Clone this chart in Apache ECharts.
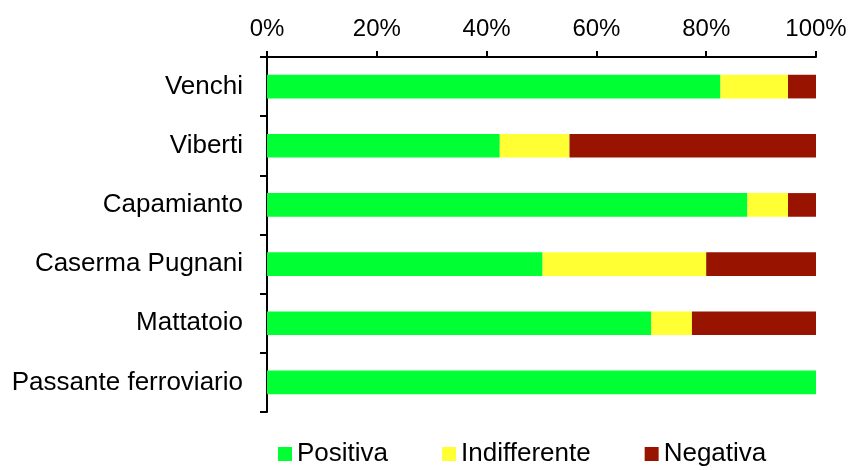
<!DOCTYPE html>
<html>
<head>
<meta charset="utf-8">
<script src="https://cdn.jsdelivr.net/npm/echarts@6/dist/echarts.min.js"></script>
<style>html,body{margin:0;padding:0;background:#fff}#c{width:851px;height:470px}</style>
</head>
<body>
<div id="c"></div>
<script>
const categories = ['Venchi', 'Viberti', 'Capamianto', 'Caserma Pugnani', 'Mattatoio', 'Passante ferroviario'];
const positiva = [82.6, 42.4, 87.5, 50.2, 70.0, 100];
const indifferente = [12.3, 12.7, 7.4, 29.8, 7.4, 0];
const negativa = [5.1, 44.9, 5.1, 20.0, 22.6, 0];
const seriesNames = ['Positiva', 'Indifferente', 'Negativa'];
const colors = ['#00ff33', '#ffff33', '#991400'];

const font = '"Liberation Sans", Arial, sans-serif';
const chart = echarts.init(document.getElementById('c'), null, {renderer: 'canvas'});
const mk = (name, data, color) => ({
  name, type: 'bar', stack: 'total', data, barWidth: '40%',
  itemStyle: {color}, emphasis: {disabled: true}
});
chart.setOption({
  animation: false,
  textStyle: {fontFamily: font},
  grid: {left: 267, right: 35, top: 57, bottom: 58, containLabel: false},
  legend: {
    bottom: -2, left: 273, itemWidth: 14, itemHeight: 14, itemGap: 54,
    icon: 'rect',
    textStyle: {fontSize: 26, color: '#000', fontFamily: font},
    data: seriesNames
  },
  xAxis: {
    type: 'value', position: 'top', min: 0, max: 100, interval: 20,
    axisLine: {show: true, lineStyle: {color: '#000', width: 2}},
    axisTick: {show: true, length: 6, lineStyle: {color: '#000', width: 2}},
    splitLine: {show: false},
    axisLabel: {formatter: '{value}%', fontSize: 24, color: '#000', margin: 16, fontFamily: font}
  },
  yAxis: {
    type: 'category', inverse: true, data: categories,
    axisLine: {show: true, lineStyle: {color: '#000', width: 2}},
    axisTick: {show: true, length: 7, lineStyle: {color: '#000', width: 2}},
    axisLabel: {fontSize: 26, color: '#000', margin: 24, fontFamily: font}
  },
  series: [
    mk(seriesNames[0], positiva, colors[0]),
    mk(seriesNames[1], indifferente, colors[1]),
    mk(seriesNames[2], negativa, colors[2])
  ]
});
</script>
</body>
</html>
